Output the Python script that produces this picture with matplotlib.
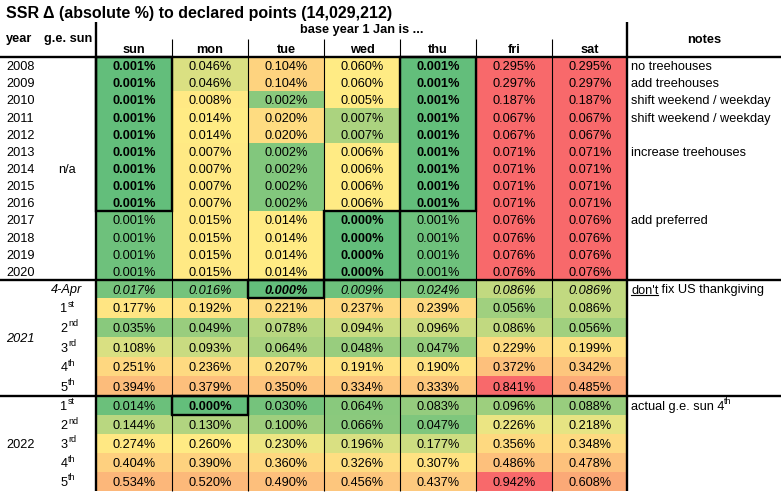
import numpy as np
import matplotlib
matplotlib.use('Agg')
import matplotlib.pyplot as plt
from matplotlib.patches import Rectangle

plt.rcParams['font.family'] = ['Liberation Sans', 'DejaVu Sans']

# ---------------- data ----------------
title = 'SSR Δ (absolute %) to declared points (14,029,212)'
days = ['sun', 'mon', 'tue', 'wed', 'thu', 'fri', 'sat']

years_block1 = ['2008', '2009', '2010', '2011', '2012', '2013', '2014',
                '2015', '2016', '2017', '2018', '2019', '2020']
values_block1 = [
    [0.001, 0.046, 0.104, 0.060, 0.001, 0.295, 0.295],
    [0.001, 0.046, 0.104, 0.060, 0.001, 0.297, 0.297],
    [0.001, 0.008, 0.002, 0.005, 0.001, 0.187, 0.187],
    [0.001, 0.014, 0.020, 0.007, 0.001, 0.067, 0.067],
    [0.001, 0.014, 0.020, 0.007, 0.001, 0.067, 0.067],
    [0.001, 0.007, 0.002, 0.006, 0.001, 0.071, 0.071],
    [0.001, 0.007, 0.002, 0.006, 0.001, 0.071, 0.071],
    [0.001, 0.007, 0.002, 0.006, 0.001, 0.071, 0.071],
    [0.001, 0.007, 0.002, 0.006, 0.001, 0.071, 0.071],
    [0.001, 0.015, 0.014, 0.000, 0.001, 0.076, 0.076],
    [0.001, 0.015, 0.014, 0.000, 0.001, 0.076, 0.076],
    [0.001, 0.015, 0.014, 0.000, 0.001, 0.076, 0.076],
    [0.001, 0.015, 0.014, 0.000, 0.001, 0.076, 0.076],
]
notes_block1 = ['no treehouses', 'add treehouses', 'shift weekend / weekday',
                'shift weekend / weekday', '', 'increase treehouses', '', '', '',
                'add preferred', '', '', '']

year_block2 = '2021'
labels_block2 = ['4-Apr', '1st', '2nd', '3rd', '4th', '5th']
values_block2 = [
    [0.017, 0.016, 0.000, 0.009, 0.024, 0.086, 0.086],
    [0.177, 0.192, 0.221, 0.237, 0.239, 0.056, 0.086],
    [0.035, 0.049, 0.078, 0.094, 0.096, 0.086, 0.056],
    [0.108, 0.093, 0.064, 0.048, 0.047, 0.229, 0.199],
    [0.251, 0.236, 0.207, 0.191, 0.190, 0.372, 0.342],
    [0.394, 0.379, 0.350, 0.334, 0.333, 0.841, 0.485],
]

year_block3 = '2022'
labels_block3 = ['1st', '2nd', '3rd', '4th', '5th']
values_block3 = [
    [0.014, 0.000, 0.030, 0.064, 0.083, 0.096, 0.088],
    [0.144, 0.130, 0.100, 0.066, 0.047, 0.226, 0.218],
    [0.274, 0.260, 0.230, 0.196, 0.177, 0.356, 0.348],
    [0.404, 0.390, 0.360, 0.326, 0.307, 0.486, 0.478],
    [0.534, 0.520, 0.490, 0.456, 0.437, 0.942, 0.608],
]

# ---------------- layout / style ----------------
W, H = 781, 493
FS = 9.2
GREEN = np.array([99, 190, 123]) / 255
YELLOW = np.array([255, 235, 132]) / 255
RED = np.array([248, 105, 107]) / 255

col_edges = [96 + 76 * i for i in range(8)]
rows1 = np.linspace(57, 280, 14)
rows2 = np.concatenate([[280], np.linspace(298, 396, 6)])
rows3 = np.linspace(396, 491, 6)

fig = plt.figure(figsize=(W / 100, H / 100), dpi=100)
ax = fig.add_axes([0, 0, 1, 1])
ax.set_xlim(0, W)
ax.set_ylim(H, 0)
ax.axis('off')


def scale_colors(vals):
    vals = np.asarray(vals, dtype=float)
    lo, mid, hi = vals.min(), np.percentile(vals, 50), vals.max()
    out = np.zeros(vals.shape + (3,))
    for idx, v in np.ndenumerate(vals):
        if v <= mid:
            t = 0 if mid == lo else (v - lo) / (mid - lo)
            out[idx] = GREEN + t * (YELLOW - GREEN)
        else:
            t = 0 if hi == mid else (v - mid) / (hi - mid)
            out[idx] = YELLOW + t * (RED - YELLOW)
    return out


def baseline(y0, y1):
    return (y0 + y1) / 2 + 4.5


def draw_block(values, row_edges, colors, bold=(), italic_rows=()):
    for r, row in enumerate(values):
        y0, y1 = row_edges[r], row_edges[r + 1]
        for c, v in enumerate(row):
            x0, x1 = col_edges[c], col_edges[c + 1]
            ax.add_patch(Rectangle((x0, y0), x1 - x0, y1 - y0,
                                   facecolor=colors[r][c], linewidth=0,
                                   antialiased=False, zorder=1))
            ax.text((x0 + x1) / 2, baseline(y0, y1), f'{v:.3f}%',
                    ha='center', va='baseline', fontsize=FS,
                    fontweight='bold' if (r, c) in bold else 'normal',
                    fontstyle='italic' if r in italic_rows else 'normal',
                    zorder=5)


# block 1 : colour scale per row
colors1 = [scale_colors(row) for row in values_block1]
bold1 = {(r, 0) for r in range(9)} | {(r, 4) for r in range(9)} | {(r, 3) for r in range(9, 13)}
draw_block(values_block1, rows1, colors1, bold=bold1)
# block 2 / 3 : colour scale per block
colors2 = scale_colors(values_block2)
draw_block(values_block2, rows2, colors2, bold={(0, 2)}, italic_rows=(0,))
colors3 = scale_colors(values_block3)
draw_block(values_block3, rows3, colors3, bold={(0, 1)})

# ---------------- lines ----------------
THICK, THIN = 1.7, 0.8
for y in (57, 280, 396):
    ax.plot([0, W], [y, y], color='black', lw=THICK, zorder=4, solid_capstyle='butt')
for x in (96, 627):
    ax.plot([x, x], [22, 491], color='black', lw=THICK, zorder=4, solid_capstyle='butt')
for x in col_edges[1:-1]:
    ax.plot([x, x], [39, 491], color='black', lw=THIN, zorder=3, solid_capstyle='butt')


def box(c0, c1, y0, y1):
    ax.add_patch(Rectangle((col_edges[c0], y0), col_edges[c1] - col_edges[c0], y1 - y0,
                           fill=False, edgecolor='black', lw=THICK, zorder=4))


box(0, 1, rows1[0], rows1[9])
box(4, 5, rows1[0], rows1[9])
box(3, 4, rows1[9], rows1[13])
box(2, 3, rows2[0], rows2[1])
box(1, 2, rows3[0], rows3[1])

# ---------------- texts ----------------
ax.text(6, 18, title, fontsize=11.5, fontweight='bold', ha='left', va='baseline')
ax.text(6, 42, 'year', fontsize=FS, fontweight='bold', ha='left', va='baseline')
ax.text(44, 42, 'g.e. sun', fontsize=FS, fontweight='bold', ha='left', va='baseline')
ax.text((col_edges[0] + col_edges[-1]) / 2, 33, 'base year 1 Jan is ...', fontsize=FS,
        fontweight='bold', ha='center', va='baseline')
for c, d in enumerate(days):
    ax.text((col_edges[c] + col_edges[c + 1]) / 2, 53, d, fontsize=FS,
            fontweight='bold', ha='center', va='baseline')
ax.text((627 + W) / 2, 43, 'notes', fontsize=FS, fontweight='bold', ha='center', va='baseline')

for r, yr in enumerate(years_block1):
    yb = baseline(rows1[r], rows1[r + 1])
    ax.text(6, yb, yr, fontsize=FS, ha='left', va='baseline')
    if notes_block1[r]:
        ax.text(631, yb, notes_block1[r], fontsize=FS, ha='left', va='baseline')
ax.text(67, baseline(rows1[6], rows1[7]), 'n/a', fontsize=FS, ha='center', va='baseline')

ax.text(6, baseline(rows2[0], rows2[-1]), year_block2, fontsize=FS, fontstyle='italic',
        ha='left', va='baseline')
ax.text(6, baseline(rows3[0], rows3[-1]), year_block3, fontsize=FS, ha='left', va='baseline')


def ordinal(label, y0, y1):
    yb = baseline(y0, y1)
    ax.text(67.5, yb, label[0], fontsize=FS, ha='right', va='baseline')
    ax.text(68, yb - 5.5, label[1:], fontsize=6.5, ha='left', va='baseline')


ax.text(82, baseline(rows2[0], rows2[1]), labels_block2[0], fontsize=FS,
        fontstyle='italic', ha='right', va='baseline')
for r, lab in enumerate(labels_block2[1:], start=1):
    ordinal(lab, rows2[r], rows2[r + 1])
for r, lab in enumerate(labels_block3):
    ordinal(lab, rows3[r], rows3[r + 1])

# notes with underline / superscript
fig.canvas.draw()
renderer = fig.canvas.get_renderer()
inv = ax.transData.inverted()

yb = baseline(rows2[0], rows2[1])
t1 = ax.text(631, yb, "don't", fontsize=FS, ha='left', va='baseline')
bb = t1.get_window_extent(renderer)
xr = inv.transform((bb.x1, bb.y0))[0]
ax.plot([631, xr], [yb + 1.8, yb + 1.8], color='black', lw=0.8, zorder=5)
ax.text(xr, yb, ' fix US thankgiving', fontsize=FS, ha='left', va='baseline')

yb = baseline(rows3[0], rows3[1])
t2 = ax.text(631, yb, 'actual g.e. sun 4', fontsize=FS, ha='left', va='baseline')
bb = t2.get_window_extent(renderer)
xr = inv.transform((bb.x1, bb.y0))[0]
ax.text(xr, yb - 5.5, 'th', fontsize=6.5, ha='left', va='baseline')

fig.savefig('out.png', dpi=100)
